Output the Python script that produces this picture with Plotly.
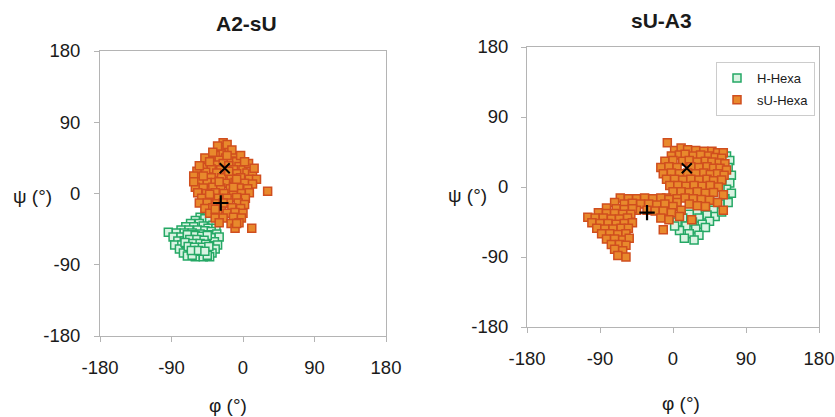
import plotly.graph_objects as go

# ---------------- data (phi, psi in degrees) ----------------
# Panel A2-sU, H-Hexa (green)
a2_h_phi = [-54,-48,-60,-42,-66,-55,-38,-72,-62,-50,-44,-34,-78,-68,-57,-48,-40,-94,-84,-74,-64,-54,-44,-33,
            -88,-78,-70,-60,-50,-40,-30,-82,-74,-65,-56,-46,-36,-86,-77,-68,-59,-50,-41,-32,-80,-71,-62,-53,
            -44,-35,-75,-66,-57,-48,-39,-70,-60,-50,-42,-58,-66,-52,-62,-46,-72,-55,-45,-64,
            -70,-60,-52,-45,-67,-58,-49,-73,-63,-54,-47,-69,-61,-51,-43,-65,-56,-48]
a2_h_psi = [-30,-32,-34,-35,-38,-38,-40,-42,-42,-41,-44,-44,-46,-46,-46,-47,-48,-49,-50,-50,-50,-51,-52,-51,
            -55,-55,-55,-55,-56,-56,-55,-60,-60,-60,-61,-60,-61,-65,-65,-65,-66,-65,-66,-65,-70,-70,-71,-70,
            -71,-70,-75,-76,-75,-76,-75,-79,-80,-80,-80,-62,-68,-73,-52,-68,-63,-57,-78,-78,
            -52,-53,-54,-53,-58,-58,-59,-62,-63,-63,-64,-67,-68,-68,-67,-72,-72,-73]

# Panel A2-sU, sU-Hexa (orange)
a2_s_phi = [-25,-22,-30,-18,-27,-35,-12,-22,-40,-30,-15,-8,-45,-25,-35,-18,-5,-50,-40,-28,-12,0,-58,-47,-33,-20,-8,5,12,
            -62,-52,-40,-27,-15,-3,8,17,-55,-45,-35,-22,-10,2,12,-60,-50,-38,-28,-16,-5,6,-57,-46,-35,-24,-12,-2,8,
            -52,-42,-31,-20,-8,3,-55,-45,-33,-18,-6,2,-48,-38,-27,-14,-3,-42,-32,-20,-10,0,-35,-25,-12,-2,-15,-5,
            -10,31,-48,-32,-20,-14,-55,-62,-8,-30,-3,7,14,-38,11,-42,-18,-30,-42,-25,-12,-50,2,-20,-8,-35]
a2_s_psi = [64,58,55,52,50,48,47,45,44,42,41,40,38,38,36,35,34,33,31,30,30,30,28,27,26,25,25,26,24,
            22,21,20,20,19,20,18,18,15,14,14,13,14,13,12,8,7,8,7,6,7,6,1,0,1,0,1,0,1,
            -6,-5,-6,-6,-5,-6,-12,-12,-13,-12,-12,-14,-19,-18,-19,-18,-19,-25,-25,-25,-24,-25,-31,-31,-30,-31,-38,-37,
            -44,3,45,60,62,55,35,15,-38,-37,48,38,32,52,-44,40,28,15,-1,-12,8,22,40,48,18,-20]

# Panel sU-A3, H-Hexa (green)
a3_h_phi = [66,70,68,72,70,66,72,64,58,68,48,40,50,30,42,52,20,32,45,12,24,36,5,16,28,40,8,20,32,14,26,2,55,58,60,56,60]
a3_h_psi = [40,34,25,15,5,-3,-8,-15,-22,-20,-22,-28,-30,-32,-36,-38,-35,-40,-44,-40,-45,-48,-45,-50,-54,-52,-56,-60,
            -62,-66,-68,-50,-10,0,12,30,-32]

# Panel sU-A3, sU-Hexa (orange)
a3_s_phi = [-7,2,10,18,28,38,48,55,62,-2,8,15,25,34,44,52,60,-10,0,12,20,30,40,48,57,64,-15,-5,5,22,32,42,50,58,66,
            -12,-2,8,18,28,38,46,55,63,-8,2,12,22,32,42,50,60,-4,6,16,26,36,46,56,0,10,20,30,40,50,62,
            -8,5,15,25,35,45,55,20,30,40,62,-3,-12,23,
            -45,-35,-25,-15,-5,5,-40,-30,-20,-10,0,10,-45,-32,-22,-12,-2,8,-15,-5,
            -65,-55,-72,-60,-50,-82,-70,-60,-50,-92,-82,-72,-62,-52,-105,-96,-86,-76,-66,-56,-100,-90,-80,-70,-60,-50,
            -94,-84,-74,-64,-55,-88,-78,-68,-58,-82,-72,-62,-54,-76,-66,-58,-72,-62,-68,-58]
a3_s_psi = [57,47,50,48,47,46,46,44,44,40,41,42,40,41,40,38,37,33,34,33,34,32,33,32,31,30,25,26,25,26,25,26,24,24,22,
            17,18,17,18,17,18,16,17,15,10,10,9,10,9,10,8,9,2,2,1,2,1,2,0,-6,-6,-7,-6,-8,-7,-10,
            -14,-15,-14,-15,-16,-17,-20,-22,-24,-25,-30,-23,-55,-42,
            -15,-14,-15,-14,-16,-20,-22,-22,-23,-22,-25,-30,-30,-30,-31,-31,-33,-38,-40,-42,
            -14,-15,-20,-22,-21,-27,-28,-29,-28,-33,-34,-34,-35,-35,-39,-40,-40,-41,-41,-40,-46,-47,-47,-48,-47,-46,
            -53,-54,-54,-53,-53,-60,-60,-61,-60,-67,-67,-68,-66,-74,-74,-75,-80,-82,-88,-90]

# Mean positions
a2_x_mark = [-23, 32]
a2_plus_mark = [-28, -12]
a3_x_mark = [17, 24]
a3_plus_mark = [-32, -33]

series_names = ["H-Hexa", "sU-Hexa"]
titles = ["A2-sU", "sU-A3"]
tick_vals = [-180, -90, 0, 90, 180]
tick_text = ["-180", "-90", "0", "90", "180"]

# ---------------- styling ----------------
FONT = "Liberation Sans, Arial, sans-serif"
GREEN_FILL, GREEN_LINE = "#d9f3e2", "#25a865"
ORANGE_FILL, ORANGE_LINE = "#e8892c", "#d04e1e"

fig = go.Figure()

def add_panel(xref, yref, h_phi, h_psi, s_phi, s_psi, xm, pm, show_leg):
    fig.add_trace(go.Scatter(x=h_phi, y=h_psi, mode="markers", name=series_names[0],
                             legendgroup="g1", showlegend=show_leg,
                             marker=dict(symbol="square", size=8, color=GREEN_FILL,
                                         line=dict(color=GREEN_LINE, width=1.5)),
                             xaxis=xref, yaxis=yref))
    fig.add_trace(go.Scatter(x=s_phi, y=s_psi, mode="markers", name=series_names[1],
                             legendgroup="g2", showlegend=show_leg,
                             marker=dict(symbol="square", size=8, color=ORANGE_FILL,
                                         line=dict(color=ORANGE_LINE, width=1.5)),
                             xaxis=xref, yaxis=yref))
    fig.add_trace(go.Scatter(x=[xm[0]], y=[xm[1]], mode="markers", showlegend=False,
                             marker=dict(symbol="x-thin", size=10, line=dict(color="black", width=2)),
                             xaxis=xref, yaxis=yref))
    fig.add_trace(go.Scatter(x=[pm[0]], y=[pm[1]], mode="markers", showlegend=False,
                             marker=dict(symbol="cross-thin", size=11, line=dict(color="black", width=2.2)),
                             xaxis=xref, yaxis=yref))

add_panel("x", "y", a2_h_phi, a2_h_psi, a2_s_phi, a2_s_psi, a2_x_mark, a2_plus_mark, False)
add_panel("x2", "y2", a3_h_phi, a3_h_psi, a3_s_phi, a3_s_psi, a3_x_mark, a3_plus_mark, True)

W, H = 835, 417
def dom_x(a, b):
    return [a / W, b / W]
def dom_y(top, bottom):
    return [1 - bottom / H, 1 - top / H]

axis_common = dict(range=[-180, 180], tickmode="array", tickvals=tick_vals, ticktext=tick_text,
                   showgrid=False, zeroline=False, showline=True, linecolor="#b4b4b4", linewidth=1,
                   mirror=True, ticks="outside", ticklen=5, tickcolor="#b4b4b4", automargin=False,
                   tickfont=dict(family=FONT, size=18.5, color="#1a1a1a"))

fig.update_layout(
    width=W, height=H, margin=dict(l=0, r=0, t=0, b=0, autoexpand=False),
    paper_bgcolor="white", plot_bgcolor="white",
    xaxis=dict(domain=dom_x(100, 386), anchor="y", ticklabelstandoff=10, **axis_common),
    yaxis=dict(domain=dom_y(51, 336), anchor="x", ticklabelstandoff=10, **axis_common),
    xaxis2=dict(domain=dom_x(527, 819), anchor="y2", ticklabelstandoff=10, **axis_common),
    yaxis2=dict(domain=dom_y(47, 327), anchor="x2", ticklabelstandoff=9, **axis_common),
    legend=dict(x=716 / W, y=1 - 62 / H, xanchor="left", yanchor="top",
                bgcolor="white", bordercolor="#cccccc", borderwidth=1,
                font=dict(family=FONT, size=13, color="#1a1a1a"),
                tracegroupgap=2, itemwidth=30),
    showlegend=True,
)

def ann(text, x, y, size, bold=False):
    fig.add_annotation(text=("<b>%s</b>" % text) if bold else text, x=x / W, y=1 - y / H,
                       xref="paper", yref="paper", showarrow=False, xanchor="center", yanchor="middle",
                       font=dict(family=FONT, size=size, color="#1a1a1a"))

ann(titles[0], 246, 24, 21, bold=True)
ann(titles[1], 661, 20, 21, bold=True)
ann("ψ (°)", 32, 197, 19)
ann("ψ (°)", 467, 195, 19)
ann("φ (°)", 228, 405, 19)
ann("φ (°)", 681, 403, 19)

fig.write_html("out.html", config={"displayModeBar": False},
               post_script="document.body.style.margin='0';document.body.style.padding='0';document.body.style.overflow='hidden';")
